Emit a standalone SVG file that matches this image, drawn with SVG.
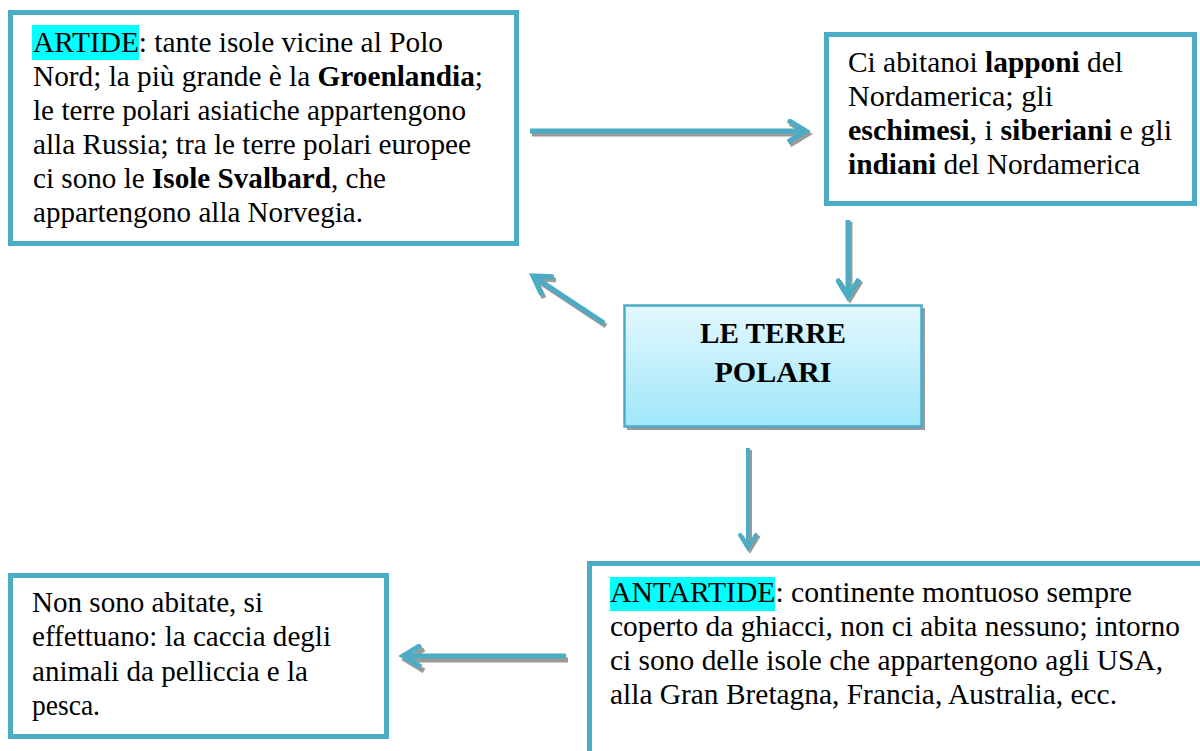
<svg xmlns="http://www.w3.org/2000/svg" width="1200" height="751" viewBox="0 0 1200 751">
<defs>
<linearGradient id="g" x1="0" y1="0" x2="0" y2="1">
<stop offset="0" stop-color="#E3F8FE"/>
<stop offset="1" stop-color="#A0E6FA"/>
</linearGradient>
<marker id="ah" viewBox="0 0 10 10" refX="8" refY="5" markerWidth="5" markerHeight="5" orient="auto" markerUnits="strokeWidth">
<polyline points="0.8,0.6 8,5 0.8,9.4" fill="none" stroke="#4BACC6" stroke-width="2"/>
</marker>
<marker id="ahs" viewBox="0 0 10 10" refX="8" refY="5" markerWidth="5" markerHeight="5" orient="auto" markerUnits="strokeWidth">
<polyline points="0.8,0.6 8,5 0.8,9.4" fill="none" stroke="#9A9A9A" stroke-width="2"/>
</marker>
</defs>
<style>
.box{fill:#fff;stroke:#4BACC6;stroke-width:5}
.hl{fill:#00FFFF}
.c{fill:none;stroke:#4BACC6;stroke-width:5;marker-end:url(#ah)}
.s{fill:none;stroke:#9A9A9A;stroke-width:5;marker-end:url(#ahs)}
</style>
<g id="connectors">
<line class="s" x1="532" y1="134" x2="808" y2="134"/>
<line class="c" x1="530" y1="131" x2="806" y2="131"/>
<line class="s" x1="850" y1="222" x2="850" y2="299"/>
<line class="c" x1="848" y1="220" x2="848" y2="297"/>
<line class="s" x1="606" y1="326" x2="535" y2="279"/>
<line class="c" x1="604" y1="323" x2="533" y2="276"/>
<line class="s" x1="750" y1="450" x2="750" y2="550" style="stroke-width:4"/>
<line class="c" x1="748" y1="448" x2="748" y2="548" style="stroke-width:4"/>
<line class="s" x1="568" y1="660" x2="406" y2="660"/>
<line class="c" x1="566" y1="656" x2="403" y2="656"/>
</g>
<g id="artide" font-family="Liberation Serif" font-size="29">
<rect class="box" x="10.5" y="12.5" width="506" height="231"/>
<rect class="hl" x="32" y="25" width="107" height="35"/>
<text x="33" y="52" textLength="410" lengthAdjust="spacingAndGlyphs">ARTIDE: tante isole vicine al Polo</text>
<text x="33" y="86" textLength="450" lengthAdjust="spacingAndGlyphs">Nord; la più grande è la <tspan font-weight="bold">Groenlandia</tspan>;</text>
<text x="33" y="120" textLength="433" lengthAdjust="spacingAndGlyphs">le terre polari asiatiche appartengono</text>
<text x="33" y="154" textLength="438" lengthAdjust="spacingAndGlyphs">alla Russia; tra le terre polari europee</text>
<text x="33" y="188" textLength="353" lengthAdjust="spacingAndGlyphs">ci sono le <tspan font-weight="bold">Isole Svalbard</tspan>, che</text>
<text x="33" y="222" textLength="330" lengthAdjust="spacingAndGlyphs">appartengono alla Norvegia.</text>
</g>
<g id="abitanti" font-family="Liberation Serif" font-size="29">
<rect class="box" x="826.5" y="34.5" width="368" height="169"/>
<text x="848" y="72" textLength="275" lengthAdjust="spacingAndGlyphs">Ci abitanoi <tspan font-weight="bold">lapponi</tspan> del</text>
<text x="848" y="106" textLength="205" lengthAdjust="spacingAndGlyphs">Nordamerica; gli</text>
<text x="848" y="140" textLength="324" lengthAdjust="spacingAndGlyphs"><tspan font-weight="bold">eschimesi</tspan>, i <tspan font-weight="bold">siberiani</tspan> e gli</text>
<text x="848" y="174" textLength="292" lengthAdjust="spacingAndGlyphs"><tspan font-weight="bold">indiani</tspan> del Nordamerica</text>
</g>
<g id="terre-polari" font-family="Liberation Serif" font-size="29" font-weight="bold">
<rect x="627" y="308" width="298" height="122" fill="#9A9A9A"/>
<rect x="624.5" y="305.5" width="297" height="121" fill="url(#g)" stroke="#4BACC6" stroke-width="2.5"/>
<text x="773" y="343" text-anchor="middle" textLength="146" lengthAdjust="spacingAndGlyphs">LE TERRE</text>
<text x="773" y="382" text-anchor="middle" textLength="117" lengthAdjust="spacingAndGlyphs">POLARI</text>
</g>
<g id="attivita" font-family="Liberation Serif" font-size="29">
<rect class="box" x="10.5" y="575.5" width="376" height="161"/>
<text x="32" y="612" textLength="231" lengthAdjust="spacingAndGlyphs">Non sono abitate, si</text>
<text x="32" y="646" textLength="299" lengthAdjust="spacingAndGlyphs">effettuano: la caccia degli</text>
<text x="32" y="681" textLength="276" lengthAdjust="spacingAndGlyphs">animali da pelliccia e la</text>
<text x="32" y="715" textLength="68" lengthAdjust="spacingAndGlyphs">pesca.</text>
</g>
<g id="antartide" font-family="Liberation Serif" font-size="29">
<rect class="box" x="589.5" y="563.5" width="620" height="200"/>
<rect class="hl" x="610" y="577" width="165" height="34"/>
<text x="610" y="602" textLength="522" lengthAdjust="spacingAndGlyphs">ANTARTIDE: continente montuoso sempre</text>
<text x="610" y="636" textLength="570" lengthAdjust="spacingAndGlyphs">coperto da ghiacci, non ci abita nessuno; intorno</text>
<text x="610" y="670" textLength="553" lengthAdjust="spacingAndGlyphs">ci sono delle isole che appartengono agli USA,</text>
<text x="610" y="704" textLength="507" lengthAdjust="spacingAndGlyphs">alla Gran Bretagna, Francia, Australia, ecc.</text>
</g>
</svg>
